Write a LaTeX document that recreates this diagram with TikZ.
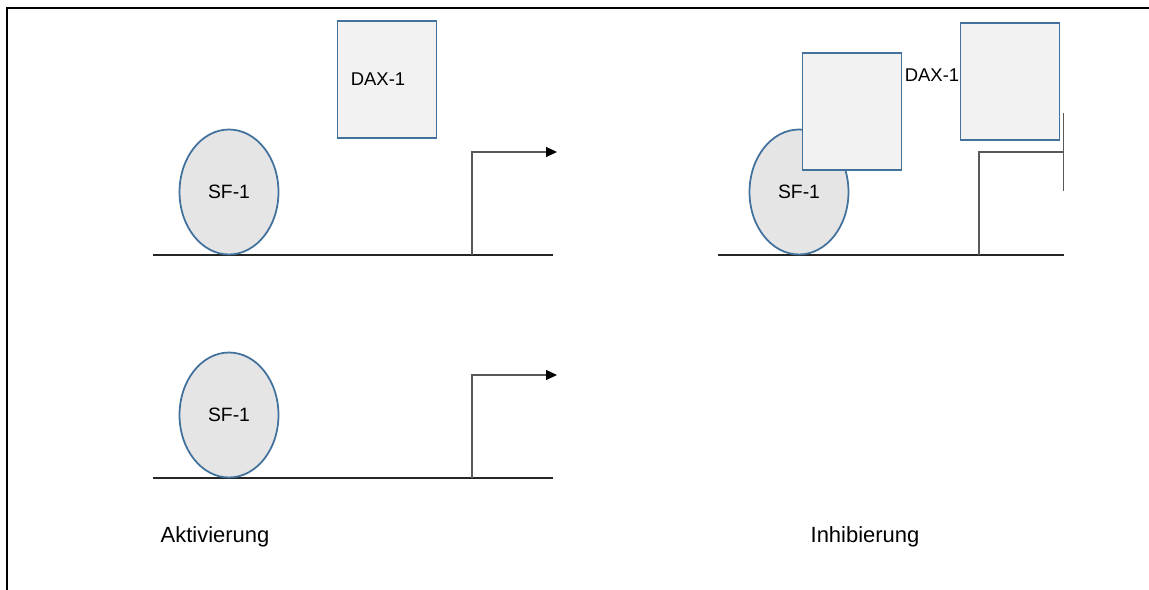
\documentclass[tikz,border=0pt]{standalone}
\usepackage{fontspec}
\setmainfont{Liberation Sans}
\usetikzlibrary{arrows.meta,shapes.geometric}
\definecolor{rimblue}{HTML}{41719C}

\begin{document}
\begin{tikzpicture}[x=0.02cm,y=-0.02cm,
    factor/.style={ellipse,draw=rimblue,fill=black!10,line width=1pt,
        minimum width=1.98cm,minimum height=2.5cm,inner sep=0pt,
        font=\fontsize{11}{13}\selectfont},
    repressor/.style={rectangle,draw=rimblue,fill=black!5,line width=1pt,
        minimum width=1.98cm,minimum height=2.34cm,inner sep=0pt,
        font=\fontsize{10.5}{12}\selectfont},
    dna/.style={line width=0.6pt,draw=black!85},
    tss/.style={line width=0.6pt,draw=black!65},
    caption/.style={font=\fontsize{12.5}{15}\selectfont}]
\useasboundingbox (0,0) rectangle (1149,590);
\draw[line width=0.9pt] (7,600) -- (7,8) -- (1160,8);

% Aktivierung, oben
\coordinate (dna1l) at (153,255);
\coordinate (dna1r) at (553,255);
\coordinate (tss1) at (472,255);
\coordinate (tss1k) at (472,152);
\coordinate (tss1e) at (557,152);
\draw[dna] (dna1l) -- (dna1r);
\draw[tss,-{Triangle[length=0.22cm,width=0.2cm,black]}] (tss1) -- (tss1k) -- (tss1e);
\node[factor] (sf1) at (229,192) {SF-1};
\node[repressor,label={[inner sep=0pt,xshift=-0.18cm,font=\fontsize{10.5}{12}\selectfont]center:DAX-1}] (dax1) at (387,79.5) {};

% Aktivierung, unten
\coordinate (dna2l) at (153,478);
\coordinate (dna2r) at (553,478);
\coordinate (tss2) at (472,478);
\coordinate (tss2k) at (472,375);
\coordinate (tss2e) at (557,375);
\draw[dna] (dna2l) -- (dna2r);
\draw[tss,-{Triangle[length=0.22cm,width=0.2cm,black]}] (tss2) -- (tss2k) -- (tss2e);
\node[factor] (sf2) at (229,415) {SF-1};

% Inhibierung
\coordinate (dna3l) at (718,255);
\coordinate (dna3r) at (1064,255);
\coordinate (tss3) at (979,255);
\coordinate (tss3k) at (979,152);
\coordinate (tss3e) at (1064,152);
\draw[dna] (dna3l) -- (dna3r);
\draw[tss,-{Bar[width=1.56cm]}] (tss3) -- (tss3k) -- (tss3e);
\node[factor] (sf3) at (799,192) {SF-1};
\node[repressor] (dax3a) at (852,111.5) {};
\node[repressor] (dax3b) at (1010,81.5) {};
\node[font=\fontsize{10.5}{12}\selectfont,inner sep=0pt] (dax3) at (932,75) {DAX-1};

\node[caption] (akt) at (215,537) {Aktivierung};
\node[caption] (inh) at (865,537) {Inhibierung};
\end{tikzpicture}
\end{document}
